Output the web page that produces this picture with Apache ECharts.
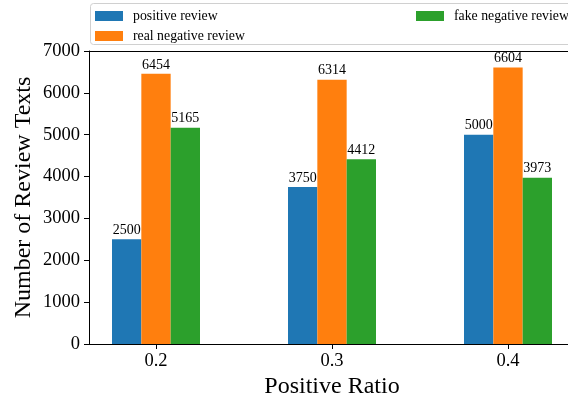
<!DOCTYPE html>
<html>
<head>
<meta charset="utf-8">
<script src="https://cdn.jsdelivr.net/npm/echarts@6/dist/echarts.min.js"></script>
<style>
  html, body { margin: 0; padding: 0; background: #fff; }
  #chart { width: 568px; height: 400px; }
</style>
</head>
<body>
<div id="chart"></div>
<script>
// Review counts per positive ratio
const ratios = ['0.2', '0.3', '0.4'];
const positiveReview = [2500, 3750, 5000];
const realNegativeReview = [6454, 6314, 6604];
const fakeNegativeReview = [5165, 4412, 3973];
const seriesNames = ['positive review', 'real negative review', 'fake negative review'];
const yTicks = { min: 0, max: 7000, step: 1000 };

const FONT = '"Liberation Serif", "Times New Roman", serif';
const colors = ['#1f77b4', '#ff7f0e', '#2ca02c'];

const chart = echarts.init(document.getElementById('chart'), null, { renderer: 'canvas' });

function barSeries(name, data, color) {
  return {
    name: name,
    type: 'bar',
    xAxisIndex: 0,
    yAxisIndex: 0,
    data: data,
    barGap: '0%',
    barCategoryGap: '50%',
    itemStyle: { color: color },
    label: {
      show: true,
      position: 'top',
      distance: 2,
      color: '#000',
      fontFamily: FONT,
      fontSize: 14
    }
  };
}

const legendCommon = {
  orient: 'vertical',
  top: 9,
  padding: 0,
  itemWidth: 28,
  itemHeight: 10,
  itemGap: 6,
  icon: 'rect',
  textStyle: { fontFamily: FONT, fontSize: 13.8, color: '#000', padding: [0, 0, 0, 5] }
};

chart.setOption({
  animation: false,
  color: colors,
  textStyle: { fontFamily: FONT },
  graphic: [{
    type: 'rect',
    shape: { x: 90.5, y: 3.5, width: 500, height: 41, r: 3 },
    style: { fill: '#fff', stroke: '#d0d0d0', lineWidth: 1 },
    z: -1
  }],
  legend: [
    Object.assign({}, legendCommon, { data: [seriesNames[0], seriesNames[1]], left: 95 }),
    Object.assign({}, legendCommon, { data: [seriesNames[2]], left: 416 })
  ],
  grid: [
    // bar layout area: one band per ratio
    { left: 68, width: 528, top: 51, bottom: 56, containLabel: false, outerBoundsMode: 'none' },
    // frame area holding the visible value axis and spines
    { left: 89, width: 486, top: 51, bottom: 56, containLabel: false, outerBoundsMode: 'none' }
  ],
  xAxis: [
    {
      type: 'category',
      gridIndex: 0,
      data: ratios,
      axisLine: { show: false },
      axisTick: { show: true, alignWithLabel: true, length: 5, lineStyle: { color: '#000' } },
      axisLabel: { color: '#000', fontFamily: FONT, fontSize: 18.5, margin: 8 },
      name: 'Positive Ratio',
      nameLocation: 'middle',
      nameGap: 31,
      nameMoveOverlap: false,
      nameTextStyle: { color: '#000', fontFamily: FONT, fontSize: 24 }
    },
    {
      type: 'value',
      gridIndex: 1,
      position: 'bottom',
      min: 0, max: 1,
      axisLine: { show: true, lineStyle: { color: '#000', width: 1 } },
      axisTick: { show: false },
      axisLabel: { show: false },
      splitLine: { show: false }
    },
    {
      type: 'value',
      gridIndex: 1,
      position: 'top',
      min: 0, max: 1,
      axisLine: { show: true, lineStyle: { color: '#000', width: 1 } },
      axisTick: { show: false },
      axisLabel: { show: false },
      splitLine: { show: false }
    }
  ],
  yAxis: [
    {
      type: 'value',
      gridIndex: 0,
      show: false,
      min: yTicks.min, max: yTicks.max, interval: yTicks.step
    },
    {
      type: 'value',
      gridIndex: 1,
      min: yTicks.min, max: yTicks.max, interval: yTicks.step,
      axisLine: { show: true, lineStyle: { color: '#000', width: 1 } },
      axisTick: { show: true, length: 5, lineStyle: { color: '#000' } },
      axisLabel: { color: '#000', fontFamily: FONT, fontSize: 18.5, margin: 9, formatter: v => String(v) },
      splitLine: { show: false },
      name: 'Number of Review Texts',
      nameLocation: 'middle',
      nameGap: 53,
      nameMoveOverlap: false,
      nameTextStyle: { color: '#000', fontFamily: FONT, fontSize: 24 }
    }
  ],
  series: [
    barSeries(seriesNames[0], positiveReview, colors[0]),
    barSeries(seriesNames[1], realNegativeReview, colors[1]),
    barSeries(seriesNames[2], fakeNegativeReview, colors[2])
  ]
});
</script>
</body>
</html>
